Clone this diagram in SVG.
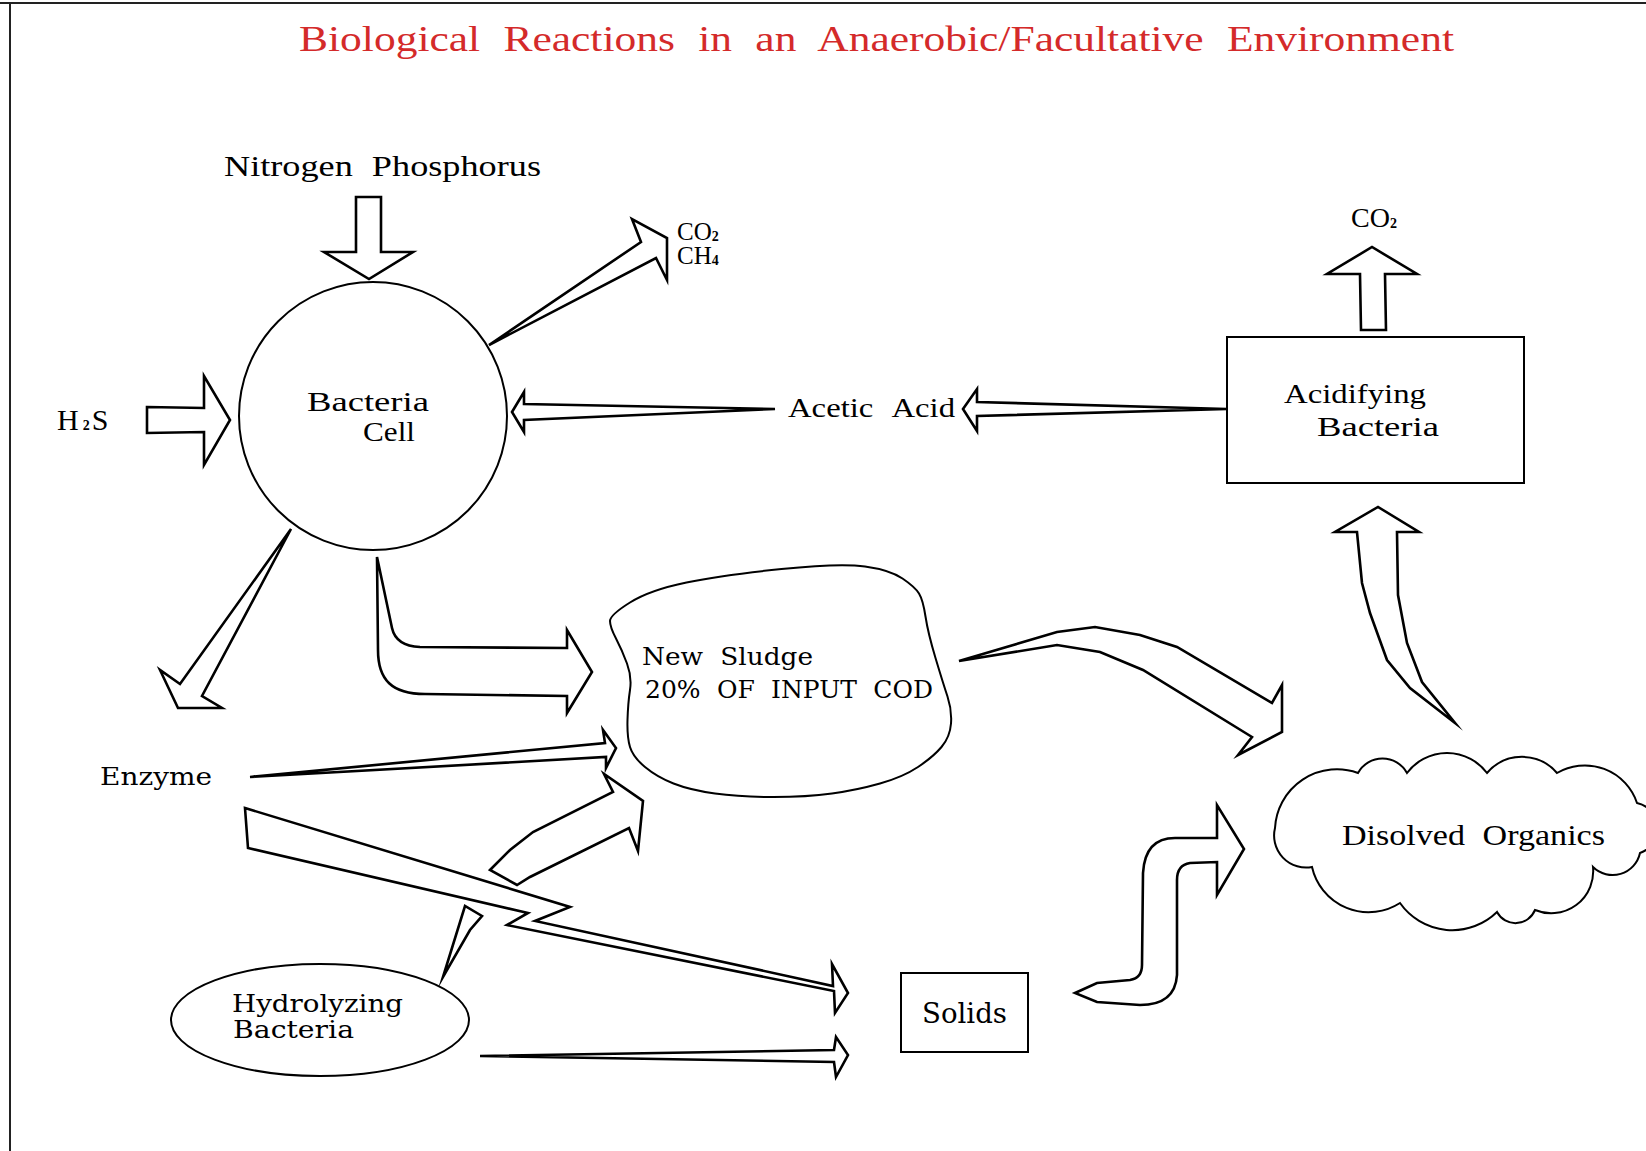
<svg xmlns="http://www.w3.org/2000/svg" width="1646" height="1151" viewBox="0 0 1646 1151">
<style>
.bg{fill:#fff}
.frame{fill:none;stroke:#222;stroke-width:2}
.node{fill:#fff;stroke:#000;stroke-width:2}
.arr{fill:#fff;stroke:#000;stroke-width:2.6;stroke-linejoin:miter;stroke-miterlimit:10}
.n{font-family:"Liberation Serif",serif;fill:#000}
.w{font-family:"DejaVu Serif",serif;fill:#000}
.title{font-family:"Liberation Serif",serif;fill:#d42a2a;font-size:35px;word-spacing:10px}
.sub{font-size:14px;font-weight:bold}
</style>
<rect class="bg" x="0" y="0" width="1646" height="1151"/>
<g id="frame">
<line class="frame" x1="10" y1="3" x2="10" y2="1151"/>
<line class="frame" x1="0" y1="3" x2="1646" y2="3" stroke-width="3"/>
</g>
<text id="title" class="title" x="299" y="51" textLength="1155" lengthAdjust="spacingAndGlyphs">Biological Reactions in an Anaerobic/Facultative Environment</text>

<g id="connectors">
<!-- Nitrogen Phosphorus down -->
<polygon class="arr" points="356,197 381,197 381,252 413,252 369,279 324,252 356,252"/>
<!-- H2S right -->
<polygon class="arr" points="147,407 204,408 204,376 230,420 204,465 204,432 147,433"/>
<!-- to CO2 CH4 -->
<polygon class="arr" points="489,345 641,242 632,219 667,238 667,280 656,258"/>
<!-- Acetic acid to cell -->
<polygon class="arr" points="512,412 524,392 524,404 775,409 524,420 524,432"/>
<!-- Acidifying to acetic acid -->
<polygon class="arr" points="963,409 977,389 977,402 1227,409 977,416 977,431"/>
<!-- Acidifying up to CO2 -->
<polygon class="arr" points="1361,330 1360,274 1327,274 1372,247 1417,274 1385,274 1386,330"/>
<!-- Disolved up to Acidifying -->
<polygon class="arr" points="1455,723 1410,688 1387,660 1370,613 1362,583 1357,532 1335,532 1378,507 1419,532 1397,532 1398,595 1407,643 1422,682"/>
<!-- Cell to Enzyme -->
<polygon class="arr" points="291,529 180,684 160,670 178,708 222,708 202,696"/>
<!-- Cell to New Sludge -->
<path class="arr" d="M 377,557 L 392,628 Q 396,646 420,647 L 567,648 L 567,630 L 592,672 L 567,713 L 567,696 L 425,694 C 392,694 378,680 378,650 Z"/>
<!-- Enzyme to New Sludge -->
<polygon class="arr" points="250,777 605,743 603,730 616,748 606,768 606,757"/>
<!-- Enzyme zigzag to Solids -->
<polygon class="arr" points="245,808 570,907 535,921 833,986 832,964 848,993 835,1013 834,991 507,925 528,913 248,848"/>
<!-- Hydrolyzing small wedge -->
<polygon class="arr" points="443,977 465,906 482,916 470,930"/>
<!-- Hydrolyzing to New Sludge -->
<polygon class="arr" points="490,870 510,850 533,832 613,792 604,774 643,801 638,851 629,828 530,877 517,885"/>
<!-- Hydrolyzing to Solids -->
<polygon class="arr" points="480,1056 834,1050 836,1037 848,1055 836,1077 834,1062"/>
<!-- New Sludge to Disolved -->
<polygon class="arr" points="959,661 1057,632 1095,627 1140,635 1177,647 1272,703 1282,685 1282,732 1238,755 1252,737 1143,670 1100,652 1057,645"/>
<!-- Solids to Disolved -->
<path class="arr" d="M 1075,993 L 1097,983 L 1130,980 Q 1142,978 1142,965 L 1143,873 Q 1145,838 1175,838 L 1217,838 L 1217,805 L 1244,849 L 1217,895 L 1217,862 L 1190,863 Q 1177,865 1177,880 L 1177,975 Q 1175,1005 1140,1005 L 1097,1002 Z"/>
</g>

<g id="bacteria-cell">
<circle class="node" cx="373" cy="416" r="134"/>
<text class="n" font-size="28"><tspan x="307" y="411" textLength="122" lengthAdjust="spacingAndGlyphs">Bacteria</tspan><tspan x="363" y="441" textLength="52" lengthAdjust="spacingAndGlyphs">Cell</tspan></text>
</g>

<g id="nitrogen-phosphorus">
<text class="n" x="224" y="176" font-size="29" word-spacing="8" textLength="317" lengthAdjust="spacingAndGlyphs">Nitrogen Phosphorus</text>
</g>

<g id="h2s">
<text class="n" x="57" y="430" font-size="30">H<tspan class="sub" dx="4">2</tspan><tspan dx="2">S</tspan></text>
</g>

<g id="co2-ch4">
<text class="n" font-size="25"><tspan x="677" y="240">CO</tspan><tspan class="sub" dy="1">2</tspan><tspan x="677" y="264">CH</tspan><tspan class="sub" dy="1">4</tspan></text>
</g>

<g id="acetic-acid">
<text class="n" x="788" y="417" font-size="28" word-spacing="10" textLength="167" lengthAdjust="spacingAndGlyphs">Acetic Acid</text>
</g>

<g id="acidifying-bacteria">
<rect class="node" x="1227" y="337" width="297" height="146"/>
<text class="n" font-size="28"><tspan x="1284" y="403" textLength="142" lengthAdjust="spacingAndGlyphs">Acidifying</tspan><tspan x="1317" y="436" textLength="122" lengthAdjust="spacingAndGlyphs">Bacteria</tspan></text>
</g>

<g id="co2-top">
<text class="n" x="1351" y="227" font-size="28">CO<tspan class="sub" dy="1">2</tspan></text>
</g>

<g id="new-sludge">
<path class="node" d="M 630,602.5 Q 650,590 686.5,582.5 Q 723,575 781.5,569 Q 840,563 865,566.5 Q 890,570 902.5,578.5 Q 915,587 919,593.5 Q 923,600 925.5,616.5 Q 928,633 935.5,658 Q 943,683 947.5,696.5 Q 952,710 951,723.5 Q 950,737 941.5,747 Q 933,757 918,767 Q 903,777 880,783.5 Q 857,790 832,793.5 Q 807,797 773.5,797 Q 740,797 715,793.5 Q 690,790 673.5,783.5 Q 657,777 645,767 Q 633,757 630,747 Q 627,737 627.5,720 Q 628,703 630,690 Q 632,677 627,663.5 Q 622,650 616,638.5 Q 610,627 610,621 Q 610,615 630,602.5 Z"/>
<text class="w" font-size="24" word-spacing="8"><tspan x="642" y="665" textLength="171" lengthAdjust="spacingAndGlyphs">New Sludge</tspan><tspan x="645" y="698" textLength="288" lengthAdjust="spacingAndGlyphs">20% OF INPUT COD</tspan></text>
</g>

<g id="disolved-organics">
<path class="node" d="M 1275,828 A 62 62 0 0 1 1358,773 A 28 28 0 0 1 1407,773 A 50 50 0 0 1 1487,773 A 46 46 0 0 1 1557,773 A 55 55 0 0 1 1637,803 A 26 26 0 0 1 1640,853 A 28 28 0 0 1 1593,867 A 42 42 0 0 1 1535,910 A 21 21 0 0 1 1497,912 A 64 64 0 0 1 1400,903 A 58 58 0 0 1 1312,867 A 32 32 0 0 1 1275,828 Z"/>
<text class="n" x="1342" y="845" font-size="30" word-spacing="8" textLength="263" lengthAdjust="spacingAndGlyphs">Disolved Organics</text>
</g>

<g id="enzyme">
<text class="w" x="100" y="785" font-size="25" textLength="112" lengthAdjust="spacingAndGlyphs">Enzyme</text>
</g>

<g id="hydrolyzing-bacteria">
<ellipse class="node" cx="320" cy="1020" rx="149" ry="56"/>
<text class="w" font-size="24"><tspan x="232" y="1012" textLength="171" lengthAdjust="spacingAndGlyphs">Hydrolyzing</tspan><tspan x="233" y="1038" textLength="121" lengthAdjust="spacingAndGlyphs">Bacteria</tspan></text>
</g>

<g id="solids">
<rect class="node" x="901" y="973" width="127" height="79"/>
<text class="w" x="922" y="1023" font-size="27" textLength="85" lengthAdjust="spacingAndGlyphs">Solids</text>
</g>
</svg>
